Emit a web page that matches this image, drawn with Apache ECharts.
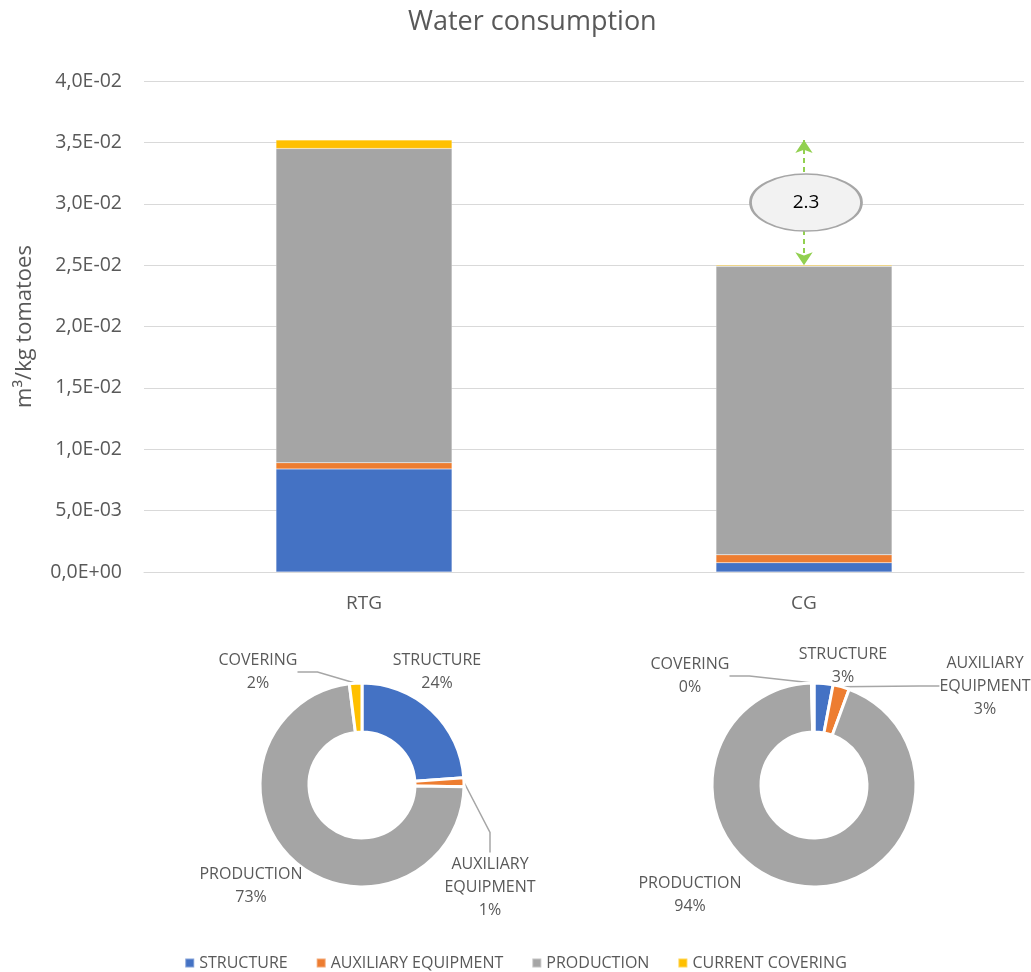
<!DOCTYPE html>
<html>
<head>
<meta charset="utf-8">
<title>Water consumption</title>
<script src="https://cdn.jsdelivr.net/npm/echarts@6/dist/echarts.min.js"></script>
<style>
  html, body { margin: 0; padding: 0; background: #ffffff; }
  #chart { width: 1031px; height: 972px; }
</style>
</head>
<body>
<div id="chart"></div>
<script>
// Water consumption per kg of tomatoes, by greenhouse type and stage
const title = 'Water consumption';
const yAxisName = 'm³/kg tomatoes';
const categories = ['RTG', 'CG'];
const seriesNames = ['STRUCTURE', 'AUXILIARY EQUIPMENT', 'PRODUCTION', 'CURRENT COVERING'];
const pieLabels = ['STRUCTURE', 'AUXILIARY\nEQUIPMENT', 'PRODUCTION', 'COVERING'];
const structure = [0.0084, 0.00075];
const auxiliary = [0.0005, 0.00065];
const production = [0.0256, 0.0235];
const covering = [0.0007, 0.0001];
const ratioLabel = '2.3';
const colors = ['#4472c4', '#ed7d31', '#a5a5a5', '#ffc000'];

const stacks = [structure, auxiliary, production, covering];
const totals = categories.map((_, i) => stacks.reduce((s, arr) => s + arr[i], 0));

// label block centres for the two doughnuts (one row per doughnut, one entry per slice)
const pieLabelPos = [
  [[437, 672], [490, 887], [251, 886], [258, 672]],
  [[843, 666], [985, 686], [690, 895], [690, 676]]
];
// which slices get a leader line
const pieLeader = [
  [false, true, false, true],
  [true, true, false, true]
];

const FONT = '"Open Sans", "Noto Sans", sans-serif';
const TXT = '#595959';

function sci(v) {
  if (v === 0) return '0,0E+00';
  const [m, e] = v.toExponential(1).split('e');
  const n = parseInt(e, 10);
  const sign = n < 0 ? '-' : '+';
  const abs = Math.abs(n);
  return m.replace('.', ',') + 'E' + sign + (abs < 10 ? '0' + abs : abs);
}

const barSeries = seriesNames.map((name, k) => {
  const s = {
    name: name,
    type: 'bar',
    stack: 'total',
    barWidth: '40%',
    data: stacks[k],
    itemStyle: { color: colors[k], borderColor: 'rgba(255,255,255,0.35)', borderWidth: 0.5 },
    emphasis: { disabled: true }
  };
  if (k === stacks.length - 1) {
    // difference marker between the two greenhouse totals, drawn over CG
    s.markLine = {
      silent: true,
      symbol: ['arrow', 'arrow'],
      symbolSize: [13, 13],
      label: { show: false },
      lineStyle: { color: '#92d050', type: [5, 4], width: 2 },
      data: [[
        { coord: [categories[1], totals[0]] },
        { coord: [categories[1], totals[1]] }
      ]]
    };
    s.markPoint = {
      silent: true,
      z: 20,
      symbol: 'path://M0,50 A100,50 0 1,1 200,50 A100,50 0 1,1 0,50 Z',
      symbolSize: [111, 57],
      symbolKeepAspect: false,
      symbolOffset: [2, 0],
      itemStyle: { color: '#f2f2f2', borderColor: '#a6a6a6', borderWidth: 2 },
      label: { show: true, position: 'inside', formatter: ratioLabel, color: '#000000', fontSize: 19, fontFamily: FONT },
      data: [{ coord: [categories[1], (totals[0] + totals[1]) / 2] }]
    };
  }
  return s;
});

function makePie(catIndex, centerX) {
  return {
    type: 'pie',
    center: [centerX, 785],
    radius: [53, 102],
    startAngle: 90,
    clockwise: true,
    avoidLabelOverlap: false,
    emphasis: { disabled: true },
    itemStyle: { borderColor: '#ffffff', borderWidth: 3 },
    label: {
      show: true,
      position: 'outside',
      formatter: p => pieLabels[p.dataIndex] + '\n' + Math.round(p.percent) + '%',
      color: TXT,
      fontSize: 16,
      lineHeight: 23,
      fontFamily: FONT,
      align: 'center'
    },
    labelLine: { show: true, length: 12, length2: 20, lineStyle: { color: '#a6a6a6', width: 1.5 } },
    labelLayout: p => {
      const pos = pieLabelPos[catIndex][p.dataIndex];
      return { x: pos[0], y: pos[1], align: 'center', verticalAlign: 'middle', hideOverlap: false };
    },
    data: seriesNames.map((name, k) => ({
      name: name,
      value: stacks[k][catIndex],
      itemStyle: { color: colors[k] },
      labelLine: { show: pieLeader[catIndex][k] }
    }))
  };
}

const chart = echarts.init(document.getElementById('chart'), null, { renderer: 'canvas' });
chart.setOption({
  animation: false,
  backgroundColor: '#ffffff',
  title: {
    text: title,
    left: 403,
    top: 4,
    textStyle: { color: TXT, fontSize: 27, fontWeight: 'normal', fontFamily: FONT }
  },
  legend: {
    data: seriesNames,
    top: 950,
    left: 'center',
    itemWidth: 9,
    itemHeight: 9,
    itemGap: 28,
    icon: 'rect',
    textStyle: { color: TXT, fontSize: 16, fontFamily: FONT },
    selectedMode: false
  },
  grid: { left: 144, right: 7, top: 81, bottom: 400, containLabel: false },
  xAxis: {
    type: 'category',
    data: categories,
    axisLine: { lineStyle: { color: '#d9d9d9', width: 1 } },
    axisTick: { show: false },
    axisLabel: { color: TXT, fontSize: 19, margin: 22, fontFamily: FONT }
  },
  yAxis: {
    type: 'value',
    min: 0,
    max: 0.04,
    interval: 0.005,
    name: yAxisName,
    nameLocation: 'middle',
    nameGap: 108,
    nameTextStyle: { color: TXT, fontSize: 22, fontFamily: FONT },
    axisLine: { show: false },
    axisTick: { show: false },
    axisLabel: { color: TXT, fontSize: 19.5, margin: 22, formatter: sci, fontFamily: FONT },
    splitLine: { lineStyle: { color: '#d9d9d9', width: 1 } }
  },
  series: barSeries.concat([makePie(0, 362), makePie(1, 814)])
});
</script>
</body>
</html>
